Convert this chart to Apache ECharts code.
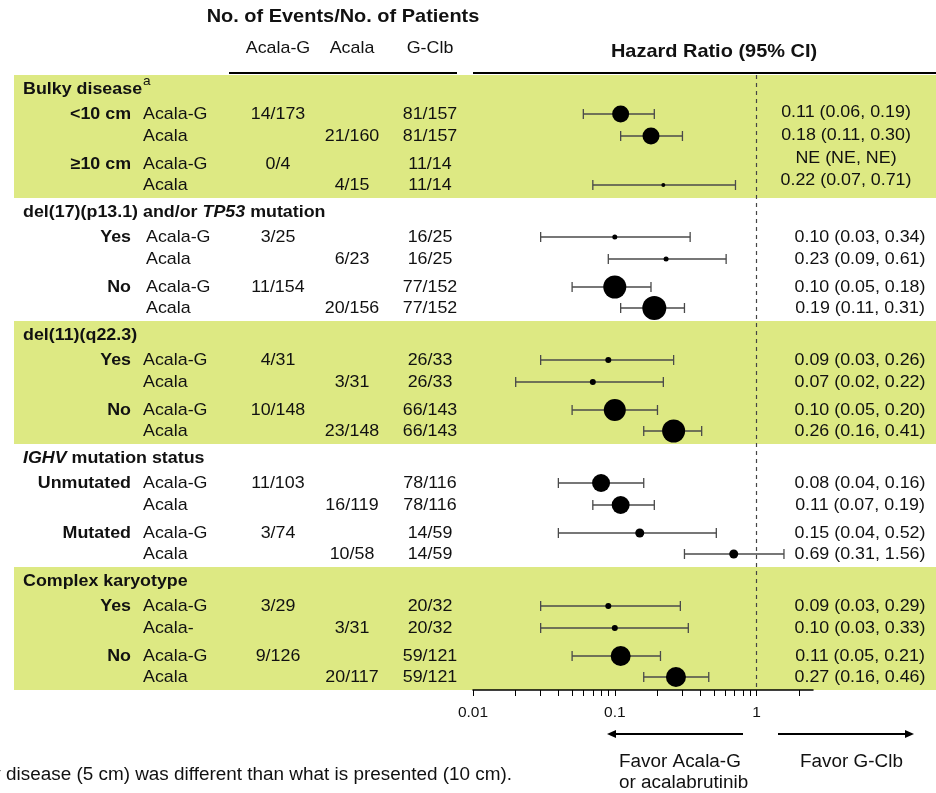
<!DOCTYPE html>
<html>
<head>
<meta charset="utf-8">
<script src="https://cdn.jsdelivr.net/npm/echarts@6/dist/echarts.min.js"></script>
<style>
  html, body { margin: 0; padding: 0; background: #fff; }
  #chart { width: 936px; height: 793px; }
</style>
</head>
<body>
<div id="chart"></div>
<script>
// ---- Data ----------------------------------------------------------------
const groupTitles = [
  'Bulky disease',
  'del(17)(p13.1) and/or {it|TP53} mutation',
  'del(11)(q22.3)',
  '{it|IGHV} mutation status',
  'Complex karyotype'
];
// one entry per row, four rows per group
const subgroupLabels = [
  '<10 cm', '', '≥10 cm', '',
  'Yes', '', 'No', '',
  'Yes', '', 'No', '',
  'Unmutated', '', 'Mutated', '',
  'Yes', '', 'No', ''
];
const armLabels = [
  'Acala-G', 'Acala', 'Acala-G', 'Acala',
  'Acala-G', 'Acala', 'Acala-G', 'Acala',
  'Acala-G', 'Acala', 'Acala-G', 'Acala',
  'Acala-G', 'Acala', 'Acala-G', 'Acala',
  'Acala-G', 'Acala-', 'Acala-G', 'Acala'
];
const eventsAcalaG = [
  '14/173', '', '0/4', '',
  '3/25', '', '11/154', '',
  '4/31', '', '10/148', '',
  '11/103', '', '3/74', '',
  '3/29', '', '9/126', ''
];
const eventsAcala = [
  '', '21/160', '', '4/15',
  '', '6/23', '', '20/156',
  '', '3/31', '', '23/148',
  '', '16/119', '', '10/58',
  '', '3/31', '', '20/117'
];
const eventsGClb = [
  '81/157', '81/157', '11/14', '11/14',
  '16/25', '16/25', '77/152', '77/152',
  '26/33', '26/33', '66/143', '66/143',
  '78/116', '78/116', '14/59', '14/59',
  '20/32', '20/32', '59/121', '59/121'
];
const hazardRatio = [
  0.11, 0.18, null, 0.22,
  0.10, 0.23, 0.10, 0.19,
  0.09, 0.07, 0.10, 0.26,
  0.08, 0.11, 0.15, 0.69,
  0.09, 0.10, 0.11, 0.27
];
const ciLower = [
  0.06, 0.11, null, 0.07,
  0.03, 0.09, 0.05, 0.11,
  0.03, 0.02, 0.05, 0.16,
  0.04, 0.07, 0.04, 0.31,
  0.03, 0.03, 0.05, 0.16
];
const ciUpper = [
  0.19, 0.30, null, 0.71,
  0.34, 0.61, 0.18, 0.31,
  0.26, 0.22, 0.20, 0.41,
  0.16, 0.19, 0.52, 1.56,
  0.29, 0.33, 0.21, 0.46
];
const columnHeaders = ['Acala-G', 'Acala', 'G-Clb'];
const axisLabelValues = [0.01, 0.1, 1];
const axisLabelTexts = ['0.01', '0.1', '1'];

// ---- Styling / layout ------------------------------------------------------
const FONT = '"Liberation Sans", Arial, Helvetica, sans-serif';
const TEXT_SCALE_X = 1.05;
const INK = '#111';
const BAND = '#dde983';
const GRID_TOP = 75;
const SECTION_H = 123;
const HEADER_OFFSET = 14;
const ROW_OFFSETS = [39, 61, 89, 110];
const markerSizes = [
  17, 17, 0, 4,
  5, 5, 23, 24,
  6, 6, 22, 23,
  18, 18, 9, 9,
  6, 6, 20, 20
];
const armX = [143, 146, 143, 143, 143];
const colX = [278, 352, 430];

function rowY(i) {
  return Math.floor(i / 4) * SECTION_H + ROW_OFFSETS[i % 4];
}
function fmt(v) { return v == null ? 'NE' : v.toFixed(2); }

function txt(x, y, text, size, opts) {
  opts = opts || {};
  const font = (opts.italic ? 'italic ' : '') + (opts.bold ? 'bold ' : '') + size + 'px ' + FONT;
  const style = {
    text: text, x: 0, y: 0, fill: opts.color || INK, font: font,
    align: opts.align || 'left', textAlign: opts.align || 'left',
    verticalAlign: 'middle', textVerticalAlign: 'middle'
  };
  if (opts.rich) style.rich = opts.rich;
  return { type: 'text', x: x, y: y, scaleX: TEXT_SCALE_X, z: 10, silent: true, style: style };
}

const graphics = [];

// shaded bands behind alternate groups
[0, 2, 4].forEach(function (s) {
  graphics.push({
    type: 'rect', z: -10, silent: true,
    shape: { x: 14, y: GRID_TOP + s * SECTION_H, width: 922, height: SECTION_H },
    style: { fill: BAND }
  });
});

// column headings and rules
graphics.push(txt(343, 17, 'No. of Events/No. of Patients', 19, { bold: true, align: 'center' }));
columnHeaders.forEach(function (h, k) {
  graphics.push(txt(colX[k], 48, h, 17, { align: 'center' }));
});
graphics.push(txt(714, 52, 'Hazard Ratio (95% CI)', 19, { bold: true, align: 'center' }));
graphics.push({ type: 'line', z: 10, silent: true, shape: { x1: 229, y1: 73, x2: 457, y2: 73 }, style: { stroke: '#000', lineWidth: 2 } });
graphics.push({ type: 'line', z: 10, silent: true, shape: { x1: 473, y1: 73, x2: 936, y2: 73 }, style: { stroke: '#000', lineWidth: 2 } });

// group titles
const italicRich = { it: { font: 'italic bold 17px ' + FONT } };
groupTitles.forEach(function (g, s) {
  graphics.push(txt(23, GRID_TOP + s * SECTION_H + HEADER_OFFSET, g, 17, { bold: true, rich: italicRich }));
});
graphics.push(txt(143, 81, 'a', 13));

// table rows
const bulkyHrOffsets = [37, 60, 83, 105];
armLabels.forEach(function (arm, i) {
  const s = Math.floor(i / 4);
  const y = GRID_TOP + rowY(i);
  if (subgroupLabels[i]) graphics.push(txt(131, y, subgroupLabels[i], 17, { bold: true, align: 'right' }));
  graphics.push(txt(armX[s], y, arm, 17));
  if (eventsAcalaG[i]) graphics.push(txt(colX[0], y, eventsAcalaG[i], 17, { align: 'center' }));
  if (eventsAcala[i]) graphics.push(txt(colX[1], y, eventsAcala[i], 17, { align: 'center' }));
  if (eventsGClb[i]) graphics.push(txt(colX[2], y, eventsGClb[i], 17, { align: 'center' }));
  const hrText = fmt(hazardRatio[i]) + ' (' + fmt(ciLower[i]) + ', ' + fmt(ciUpper[i]) + ')';
  if (s === 0) {
    graphics.push(txt(846, GRID_TOP + bulkyHrOffsets[i % 4], hrText, 17, { align: 'center' }));
  } else {
    graphics.push(txt(860, y, hrText, 17, { align: 'center' }));
  }
});

// direction arrows and captions
function arrow(xTail, xHead, y) {
  const dir = xHead > xTail ? 1 : -1;
  graphics.push({ type: 'line', z: 10, silent: true, shape: { x1: xTail, y1: y, x2: xHead - dir * 6, y2: y }, style: { stroke: '#000', lineWidth: 2 } });
  graphics.push({ type: 'polygon', z: 10, silent: true, shape: { points: [[xHead, y], [xHead - dir * 9, y - 4], [xHead - dir * 9, y + 4]] }, style: { fill: '#000' } });
}
arrow(743, 607, 734);
arrow(778, 914, 734);
graphics.push(txt(619, 762, 'Favor Acala-G', 18));
graphics.push(txt(619, 783, 'or acalabrutinib', 18));
graphics.push(txt(800, 762, 'Favor G-Clb', 18));

// footnote
graphics.push(txt(512, 775, 'ᵃThe prespecified cutoff for bulky disease (5 cm) was different than what is presented (10 cm).', 18, { align: 'right' }));

// ---- Series data ------------------------------------------------------------
const pointData = [];
const ciData = [];
hazardRatio.forEach(function (v, i) {
  if (v != null) pointData.push({ value: [v, rowY(i)], symbolSize: markerSizes[i] });
  if (ciLower[i] != null) ciData.push([ciLower[i], ciUpper[i], rowY(i)]);
});

const tickValues = [];
[0.01, 0.1].forEach(function (decade) {
  for (let m = 1; m <= 9; m++) tickValues.push(+(decade * m).toPrecision(3));
});
tickValues.push(1, 2);

const chart = echarts.init(document.getElementById('chart'), null, { renderer: 'canvas' });
chart.setOption({
  animation: false,
  backgroundColor: '#fff',
  grid: { left: 473, right: 123, top: GRID_TOP, bottom: 103, containLabel: false },
  xAxis: {
    type: 'log', logBase: 10, min: 0.01, max: 2.5,
    axisLine: { show: true, onZero: false, lineStyle: { color: '#000', width: 1.5 } },
    axisTick: { show: true, length: 6, customValues: tickValues, lineStyle: { color: '#000', width: 1 } },
    axisLabel: {
      customValues: axisLabelValues, margin: 15, fontSize: 15.5, color: INK, fontFamily: FONT,
      formatter: function (v) {
        for (let k = 0; k < axisLabelValues.length; k++) {
          if (Math.abs(Math.log10(v) - Math.log10(axisLabelValues[k])) < 1e-6) return axisLabelTexts[k];
        }
        return '';
      }
    },
    splitLine: { show: false },
    minorTick: { show: false }
  },
  yAxis: { type: 'value', min: 0, max: SECTION_H * 5, inverse: true, show: false },
  graphic: { elements: graphics },
  series: [
    {
      type: 'custom',
      z: 3,
      silent: true,
      data: ciData,
      encode: { x: [0, 1], y: 2 },
      renderItem: function (params, api) {
        const y = api.value(2);
        const a = api.coord([api.value(0), y]);
        const b = api.coord([api.value(1), y]);
        const h = 5;
        const st = { stroke: '#4a4a4a', lineWidth: 1.3 };
        return {
          type: 'group',
          children: [
            { type: 'line', shape: { x1: a[0], y1: a[1], x2: b[0], y2: b[1] }, style: st },
            { type: 'line', shape: { x1: a[0], y1: a[1] - h, x2: a[0], y2: a[1] + h }, style: st },
            { type: 'line', shape: { x1: b[0], y1: b[1] - h, x2: b[0], y2: b[1] + h }, style: st }
          ]
        };
      }
    },
    {
      type: 'scatter',
      z: 4,
      silent: true,
      symbol: 'circle',
      itemStyle: { color: '#000', opacity: 1 },
      data: pointData,
      markLine: {
        silent: true,
        symbol: 'none',
        label: { show: false },
        lineStyle: { color: '#444', type: [4, 4], width: 1.2 },
        data: [{ xAxis: 1 }]
      }
    }
  ]
});
</script>
</body>
</html>
